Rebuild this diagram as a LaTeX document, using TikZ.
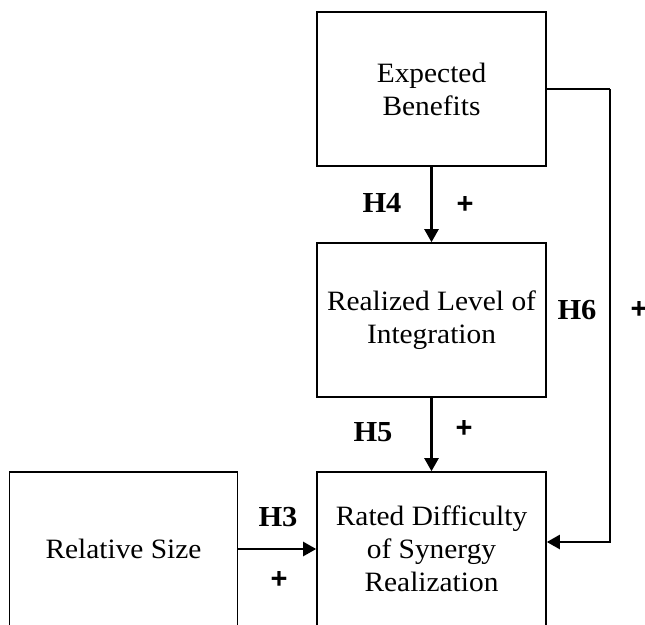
\documentclass[tikz,border=0pt]{standalone}
\usepackage{fontspec}
\setmainfont[FakeStretch=1.05]{Liberation Serif}
\newfontfamily\plusfont{Liberation Sans}
\usetikzlibrary{arrows.meta}
\begin{document}
\begin{tikzpicture}[x=1pt,y=-1pt,
  box/.style={draw,line width=1.6pt,minimum width=229pt,minimum height=154pt,
    align=center,inner sep=0pt,font=\fontsize{28}{33}\selectfont},
  arr/.style={line width=2.3pt,-{Triangle[length=13pt,width=14pt]}},
  hlab/.style={font=\fontsize{29}{33}\selectfont\bfseries},
  plab/.style={font=\fontsize{29}{33}\selectfont\plusfont\bfseries}]
\useasboundingbox (0,0) rectangle (645,624);
\begin{scope}
\clip (0,0) rectangle (645,624);
% variables
\node[box] (exp)   at (431.5,89)  {Expected\\Benefits};
\node[box] (real)  at (431.5,320) {Realized Level of\\Integration};
\node[box] (rated) at (431.5,549) {Rated Difficulty\\of Synergy\\Realization};
\node[box,minimum width=228pt] (rel) at (123.5,549) {Relative Size};
% paths between variables
\draw[arr] (exp.south) -- (real.north);
\draw[arr] (real.south) -- (rated.north);
\draw[arr] (rel.east) -- (rated.west);
\coordinate (bend) at (610,542);
\draw[line width=1.8pt] (exp.east) -- (exp.east -| bend);
\draw[arr] (exp.east -| bend) -- (bend) -- (bend -| rated.east);
% hypothesis labels
\node[hlab] (h4) at (382,203) {H4};
\node[plab] (p4) at (465,205) {+};
\node[hlab] (h5) at (373,432) {H5};
\node[plab] (p5) at (464,429) {+};
\node[hlab] (h6) at (577,310) {H6};
\node[plab] (p6) at (639,310) {+};
\node[hlab] (h3) at (278,517) {H3};
\node[plab] (p3) at (279,580) {+};
\end{scope}
\end{tikzpicture}
\end{document}
